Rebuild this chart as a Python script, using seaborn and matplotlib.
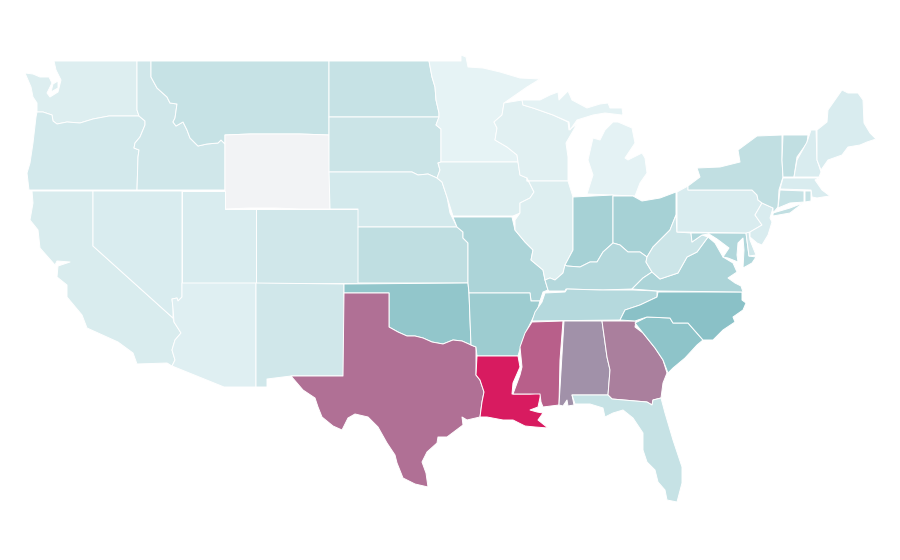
import numpy as np
import matplotlib
matplotlib.use("Agg")
import matplotlib.pyplot as plt
from matplotlib.collections import PolyCollection
from matplotlib.colors import Normalize
import seaborn as sns

# state values (Wyoming has no data)
STATES = ["WA", "KITSAP", "OR", "CA", "ID", "NV", "MT", "WY", "UT", "AZ", "CO", "NM", "ND", "SD", "NE", "KS", "OK", "TX",
          "MN", "IA", "MO", "AR", "LA", "WI", "IL", "UP", "LP", "IN", "OH", "KY", "TN", "MS", "AL", "GA", "FL",
          "SC", "NC", "VA", "WV", "MD", "DE", "PA", "NJ", "NY", "VT", "NH", "ME", "MA", "CT", "RI"]
VALUES = [6, 6, 11, 8.5, 13, 8, 18, np.nan, 8, 5, 13, 13, 18, 16, 11, 22, 46, 74.5,
          1.5, 6, 32, 40, 100, 4, 6, 2, 2, 35, 35, 28, 27, 79.5, 64.5, 70, 18,
          48, 50, 32, 15, 29, 13, 8, 8, 21, 21, 8, 8, 8, 18, 18]

# outlines in map units
OUTLINES = {
    "WA": [(54, 61), (137, 61), (137, 110), (139, 116), (109, 116), (93, 119), (80, 123), (67, 122), (57, 124),
           (53, 121), (52, 115), (43, 112), (37, 112), (37, 103), (33, 97), (31, 87), (25, 73), (33, 74), (40, 77),
           (49, 77), (52, 83), (47, 93), (50, 97), (58, 92), (61, 80), (56, 70)],
    "KITSAP": [(53, 84), (58, 81), (58, 88), (51, 92)],
    "OR": [(37, 112), (43, 112), (52, 115), (53, 121), (57, 124), (67, 122), (80, 123), (93, 119), (109, 116),
           (139, 116), (145, 121), (145, 125), (140, 137), (135, 143), (134, 148), (139, 150), (138, 157),
           (137, 190), (29, 190), (27, 173), (30, 163), (33, 143), (36, 117)],
    "CA": [(32, 191), (93, 191), (93, 246), (173, 318), (174, 322), (181, 333), (175, 340), (172, 350), (175, 360),
           (172, 366), (167, 363), (137, 364), (133, 353), (118, 342), (87, 328), (82, 315), (67, 297), (67, 285),
           (57, 277), (58, 266), (70, 262), (57, 261), (55, 265), (40, 248), (38, 230), (30, 220), (33, 203)],
    "ID": [(137, 61), (151, 61), (151, 77), (157, 88), (167, 97), (170, 103), (177, 104), (175, 118), (173, 122),
           (176, 126), (183, 122), (187, 130), (190, 138), (198, 146), (207, 144), (218, 143), (221, 140), (225, 144),
           (225, 190), (137, 190), (138, 157), (139, 150), (134, 148), (135, 143), (140, 137), (145, 125), (145, 121),
           (139, 116), (137, 110)],
    "NV": [(93, 191), (182, 191), (182, 297), (178, 301), (177, 298), (172, 299), (173, 308), (173, 318), (93, 246)],
    "MT": [(151, 61), (329, 61), (329, 135), (300, 134), (275, 134), (250, 134), (225, 135), (225, 144), (221, 140),
           (218, 143), (207, 144), (198, 146), (190, 138), (187, 130), (183, 122), (176, 126), (173, 122), (175, 118),
           (177, 104), (170, 103), (167, 97), (157, 88), (151, 77)],
    "WY": [(225, 135), (250, 134), (275, 134), (300, 134), (329, 135), (330, 209), (300, 209), (275, 208), (250, 208),
           (225, 209)],
    "UT": [(182, 191), (225, 191), (225, 209), (256, 209), (256, 283), (182, 283)],
    "AZ": [(182, 283), (256, 283), (256, 387), (224, 387), (172, 366), (175, 360), (172, 350), (175, 340), (181, 333),
           (174, 322), (173, 308), (172, 299), (177, 298), (178, 301), (182, 297)],
    "CO": [(256, 209), (300, 209), (330, 209), (358, 209), (358, 283), (256, 283)],
    "NM": [(256, 283), (344, 284), (344, 376), (291, 376), (267, 379), (267, 387), (256, 387)],
    "ND": [(329, 61), (429, 61), (432, 77), (435, 87), (436, 100), (439, 113), (439, 117), (329, 117)],
    "SD": [(329, 117), (439, 117), (436, 125), (441, 129), (441, 162), (438, 163), (440, 170), (437, 178), (428, 174),
           (418, 175), (412, 172), (329, 172)],
    "NE": [(329, 172), (412, 172), (418, 175), (428, 174), (437, 178), (442, 182), (447, 197), (450, 213), (457, 227),
           (358, 227), (358, 209), (330, 209)],
    "KS": [(358, 227), (457, 227), (463, 232), (463, 238), (468, 243), (468, 283), (358, 283)],
    "OK": [(344, 284), (468, 283), (469, 293), (471, 345), (462, 341), (453, 340), (443, 344), (432, 342), (423, 338),
           (415, 336), (407, 336), (398, 332), (389, 327), (389, 293), (344, 293)],
    "TX": [(344, 293), (389, 293), (389, 327), (398, 332), (407, 336), (415, 336), (423, 338), (432, 342), (443, 344),
           (453, 340), (462, 341), (471, 345), (476, 347), (476, 375), (480, 380), (484, 392), (482, 402), (480, 417),
           (467, 420), (462, 417), (463, 425), (447, 437), (438, 437), (437, 443), (427, 452), (422, 462), (426, 473),
           (428, 487), (415, 484), (403, 478), (397, 463), (395, 455), (387, 443), (378, 427), (368, 417), (355, 414),
           (348, 418), (342, 430), (333, 426), (322, 417), (318, 407), (315, 398), (303, 390), (291, 376), (343, 376)],
    "MN": [(429, 61), (461, 61), (461, 55), (466, 57), (468, 67), (483, 68), (500, 72), (520, 78), (540, 79), (527, 87),
           (504, 103), (502, 115), (494, 122), (497, 128), (495, 140), (507, 147), (517, 155), (518, 162), (441, 162),
           (441, 129), (436, 125), (439, 117), (439, 113), (436, 100), (435, 87), (432, 77)],
    "IA": [(441, 162), (518, 162), (520, 175), (527, 178), (534, 192), (530, 198), (520, 203), (520, 213), (513, 216),
           (453, 216), (447, 197), (442, 182), (437, 178), (440, 170), (438, 163)],
    "MO": [(453, 217), (512, 217), (515, 230), (525, 242), (533, 250), (531, 260), (543, 270), (545, 280), (548, 290),
           (543, 292), (540, 301), (531, 301), (530, 293), (469, 293), (468, 283), (468, 243), (463, 238), (463, 232),
           (457, 227)],
    "AR": [(469, 293), (530, 293), (531, 301), (540, 301), (538, 308), (532, 320), (527, 330), (522, 342), (518, 356),
           (477, 356), (476, 347), (471, 345)],
    "LA": [(477, 356), (518, 356), (520, 367), (513, 383), (512, 394), (530, 394), (541, 393), (538, 407), (530, 410),
           (537, 412), (543, 413), (538, 420), (548, 428), (535, 427), (525, 426), (513, 420), (503, 420), (487, 417),
           (480, 417), (482, 402), (484, 392), (480, 380), (476, 375)],
    "WI": [(504, 103), (522, 100), (523, 105), (533, 108), (553, 115), (568, 122), (569, 130), (577, 124), (566, 143),
           (568, 157), (568, 181), (527, 181), (527, 178), (520, 175), (518, 162), (517, 155), (507, 147), (495, 140),
           (497, 128), (494, 122), (502, 115)],
    "IL": [(527, 181), (568, 181), (573, 197), (573, 243), (573, 250), (565, 265), (563, 273), (555, 280), (550, 278),
           (545, 280), (543, 270), (531, 260), (533, 250), (525, 242), (515, 230), (515, 220), (520, 213), (520, 203),
           (530, 198), (534, 192), (527, 178)],
    "UP": [(522, 100), (540, 100), (550, 95), (558, 92), (559, 100), (568, 91), (572, 100), (587, 108), (600, 104),
           (608, 103), (610, 108), (622, 108), (623, 115), (630, 116), (605, 113), (593, 115), (577, 120), (570, 130),
           (569, 122), (553, 115), (533, 108), (523, 105)],
    "LP": [(613, 122), (618, 122), (632, 128), (635, 143), (625, 158), (628, 160), (642, 153), (645, 158), (647, 173),
           (640, 183), (635, 196), (587, 194), (593, 175), (588, 160), (593, 138), (600, 140), (605, 130)],
    "IN": [(573, 197), (613, 195), (613, 243), (603, 252), (597, 262), (590, 262), (580, 267), (567, 266), (565, 265),
           (573, 250), (573, 243)],
    "OH": [(613, 196), (633, 196), (642, 201), (660, 198), (676, 192), (676, 215), (670, 230), (660, 240), (653, 247),
           (647, 257), (640, 252), (628, 252), (620, 245), (613, 243)],
    "KY": [(563, 273), (565, 265), (567, 266), (580, 267), (590, 262), (597, 262), (603, 252), (613, 243), (620, 245),
           (628, 252), (640, 252), (647, 257), (646, 262), (652, 272), (643, 278), (632, 289), (603, 290), (566, 289),
           (565, 291), (549, 291), (548, 290), (545, 280), (550, 278), (555, 280)],
    "TN": [(545, 293), (565, 292), (567, 289), (600, 290), (633, 290), (657, 291), (657, 297), (640, 305), (625, 310),
           (620, 320), (532, 321), (535, 312), (542, 302)],
    "MS": [(532, 322), (563, 321), (560, 360), (559, 405), (543, 407), (541, 402), (540, 394), (513, 394), (520, 375),
           (522, 367), (520, 347), (525, 333)],
    "AL": [(564, 321), (602, 321), (607, 357), (610, 370), (608, 395), (572, 395), (574, 405), (568, 406), (567, 400),
           (563, 406), (559, 405)],
    "GA": [(602, 321), (636, 321), (635, 327), (643, 333), (655, 348), (663, 360), (667, 373), (663, 383), (661, 398),
           (653, 400), (652, 405), (647, 402), (612, 399), (608, 395), (610, 370), (607, 357)],
    "FL": [(572, 395), (608, 395), (612, 399), (647, 402), (652, 405), (653, 400), (661, 398), (665, 413), (673, 440),
           (682, 467), (682, 483), (677, 502), (667, 500), (665, 490), (658, 482), (655, 470), (647, 462), (643, 450),
           (643, 433), (633, 418), (623, 410), (613, 413), (605, 417), (603, 408), (590, 404), (575, 404)],
    "SC": [(635, 323), (647, 317), (670, 318), (673, 323), (688, 323), (703, 340), (697, 345), (685, 358), (673, 368),
           (668, 373), (663, 360), (655, 348), (643, 333)],
    "NC": [(658, 292), (742, 292), (742, 300), (746, 303), (743, 310), (733, 317), (735, 322), (723, 330), (713, 340),
           (703, 340), (688, 323), (673, 323), (670, 318), (647, 317), (635, 321), (620, 320), (625, 310), (640, 305),
           (657, 297)],
    "VA": [(632, 289), (643, 278), (652, 272), (660, 279), (678, 273), (687, 257), (697, 252), (708, 237), (715, 243),
           (723, 257), (733, 263), (737, 272), (728, 278), (735, 283), (741, 286), (743, 292), (658, 291)],
    "WV": [(676, 215), (677, 232), (691, 233), (692, 242), (702, 235), (708, 237), (697, 252), (687, 257), (678, 273),
           (660, 279), (652, 272), (646, 262), (647, 257), (653, 247), (660, 240), (670, 230)],
    "MD": [(691, 233), (746, 233), (749, 256), (756, 257), (752, 263), (743, 268), (744, 250), (743, 238), (738, 243),
           (737, 255), (738, 262), (728, 258), (723, 257), (729, 248), (717, 239), (709, 234), (702, 235), (692, 242)],
    "DE": [(746, 233), (749, 232), (750, 240), (756, 255), (749, 256)],
    "PA": [(677, 192), (688, 186), (688, 190), (752, 190), (757, 195), (758, 200), (762, 203), (755, 215), (762, 225),
           (750, 232), (746, 233), (677, 232)],
    "NJ": [(762, 203), (773, 208), (770, 218), (772, 222), (768, 235), (762, 245), (757, 243), (750, 237), (750, 232),
           (762, 225), (755, 215)],
    "NY": [(688, 186), (700, 177), (697, 168), (720, 167), (740, 162), (738, 150), (757, 136), (782, 135), (782, 160),
           (783, 177), (779, 190), (778, 207), (773, 213), (790, 208), (803, 203), (790, 213), (773, 216), (773, 208),
           (762, 203), (758, 200), (757, 195), (752, 190), (688, 190)],
    "VT": [(783, 135), (808, 135), (807, 143), (797, 157), (794, 177), (783, 177), (782, 160)],
    "NH": [(811, 130), (816, 130), (817, 160), (821, 172), (819, 177), (794, 177), (797, 160), (807, 142)],
    "ME": [(817, 130), (827, 122), (828, 110), (835, 100), (842, 90), (848, 93), (858, 93), (863, 100), (864, 123),
           (870, 133), (876, 139), (867, 142), (860, 145), (848, 147), (842, 155), (828, 160), (821, 170), (817, 160)],
    "MA": [(783, 178), (819, 178), (815, 180), (822, 190), (830, 196), (823, 197), (817, 198), (812, 197), (811, 190),
           (780, 189)],
    "CT": [(780, 190), (804, 191), (804, 202), (790, 203), (778, 208)],
    "RI": [(805, 191), (811, 191), (811, 201), (805, 202)],
}

sns.set_style("white")

cmap = sns.blend_palette(["#e8f4f6", "#8ac2c7", "#d81b60"], as_cmap=True)
cmap.set_bad("#f2f3f5")

fig = plt.figure(figsize=(9, 5.6), dpi=100)
ax = fig.add_axes([0, 0, 1, 1])

states = PolyCollection([OUTLINES[s] for s in STATES], array=np.ma.masked_invalid(VALUES), cmap=cmap,
                        norm=Normalize(0, 100), edgecolor="white", linewidth=0.7)
ax.add_collection(states)

ax.set_xlim(0, 900)
ax.set_ylim(560, 0)
ax.axis("off")

fig.savefig("out.png", dpi=100, facecolor="white")
